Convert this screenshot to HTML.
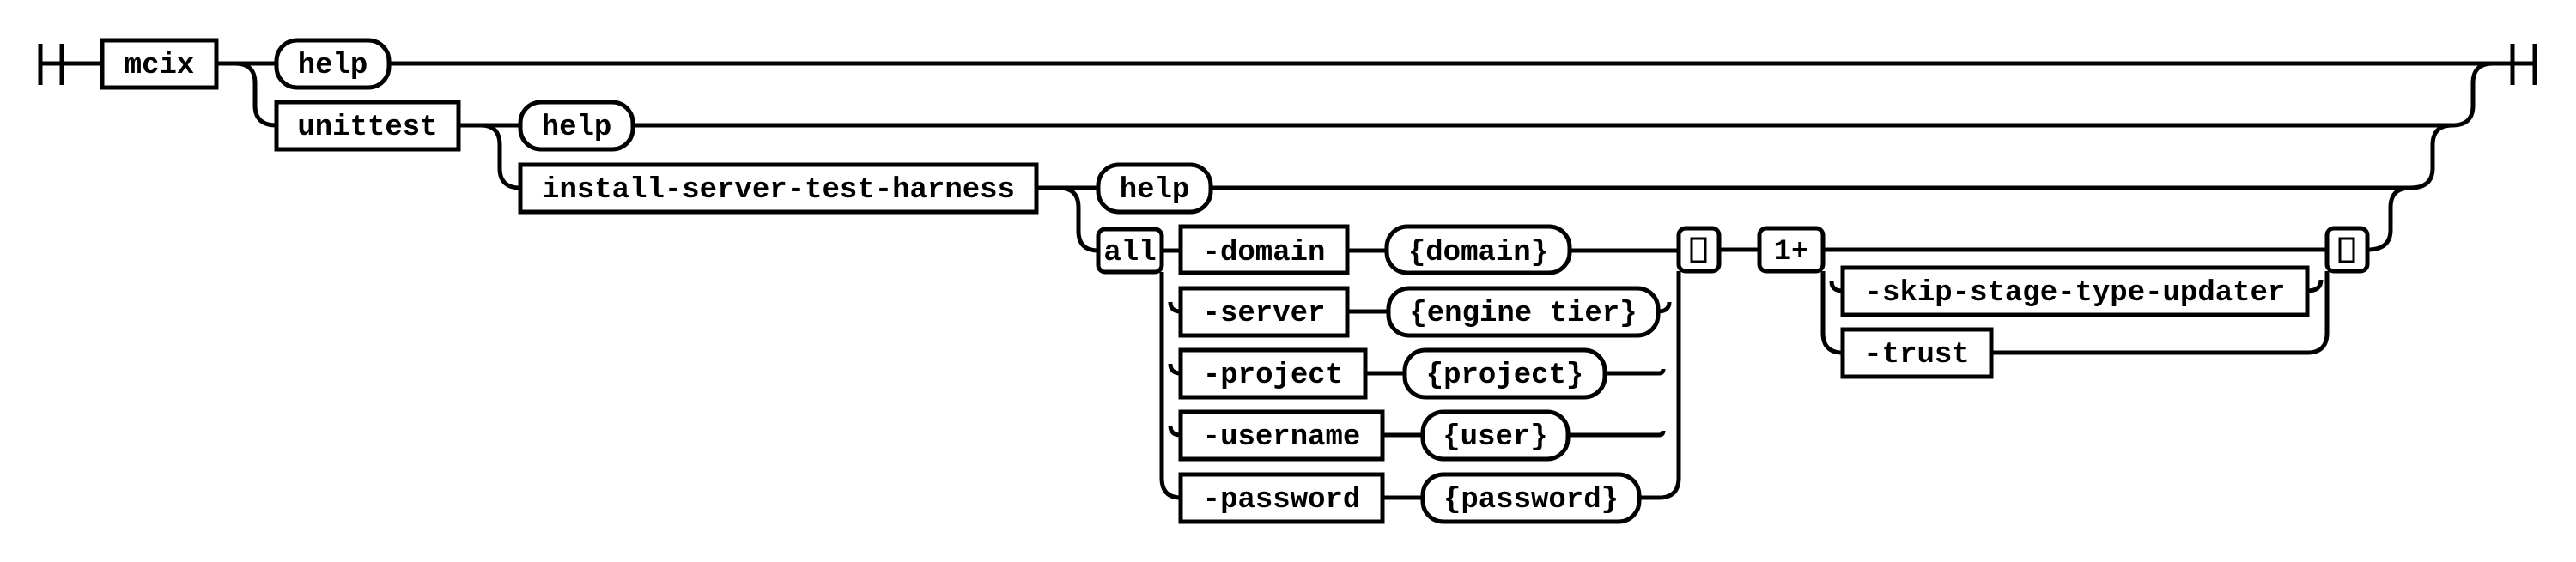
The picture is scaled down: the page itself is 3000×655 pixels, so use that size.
<!DOCTYPE html>
<html><head><meta charset="utf-8"><style>
html,body{margin:0;padding:0;background:#fff;}
svg{display:block;}
text{font-family:"Liberation Mono",monospace;font-weight:bold;font-size:34px;fill:#000;}
</style></head><body>
<svg width="3000" height="655" viewBox="0 0 3000 655" xmlns="http://www.w3.org/2000/svg">
<g fill="none" stroke="#000" stroke-width="5">
<line x1="47" y1="51" x2="47" y2="99"/><line x1="72" y1="51" x2="72" y2="99"/>
<line x1="47" y1="74" x2="119" y2="74"/>
<line x1="2926" y1="51" x2="2926" y2="99"/><line x1="2952" y1="51" x2="2952" y2="99"/>
<rect x="119" y="47" width="133" height="55"/>
<line x1="252" y1="74" x2="322" y2="74"/>
<rect x="322" y="47" width="131" height="55" rx="24"/>
<line x1="453" y1="74" x2="2952" y2="74"/>
<path d="M274,74 Q297,74 297,97 L297,123 Q297,146 322,146"/>
<rect x="322" y="119" width="212" height="55"/>
<line x1="534" y1="146" x2="606" y2="146"/>
<rect x="606" y="119" width="131" height="55" rx="24"/>
<line x1="737" y1="146" x2="2856" y2="146"/>
<path d="M2856,146 Q2880,146 2880,123 L2880,97 Q2880,74 2903,74"/>
<path d="M560,146 Q582,146 582,169 L582,196 Q582,219 606,219"/>
<rect x="606" y="192" width="601" height="55"/>
<line x1="1207" y1="219" x2="1279" y2="219"/>
<rect x="1279" y="192" width="131" height="55" rx="24"/>
<line x1="1410" y1="219" x2="2807" y2="219"/>
<path d="M2807,219 Q2833,219 2833,196 L2833,169 Q2833,146 2856,146"/>
<path d="M1233,219 Q1256,219 1256,242 L1256,269 Q1256,292 1279,292"/>
<rect x="1279" y="267" width="74" height="50" rx="8"/>
<line x1="1353" y1="292" x2="1375" y2="292"/>
<path d="M1353,317 L1353,557 Q1353,580 1375,580"/>
<rect x="1375" y="264" width="194" height="54"/>
<line x1="1569" y1="292" x2="1615" y2="292"/>
<rect x="1615" y="264" width="213" height="54" rx="24"/>
<line x1="1828" y1="292" x2="1955" y2="292"/>
<path d="M1363,352 Q1363,363 1375,363"/>
<rect x="1375" y="336" width="194" height="55"/>
<line x1="1569" y1="363" x2="1617" y2="363"/>
<rect x="1617" y="336" width="314" height="55" rx="24"/>
<path d="M1931,363 Q1944,363 1944,352"/>
<path d="M1363,424 Q1363,435 1375,435"/>
<rect x="1375" y="408" width="215" height="55"/>
<line x1="1590" y1="435" x2="1636" y2="435"/>
<rect x="1636" y="408" width="233" height="55" rx="24"/>
<path d="M1869,435 L1932,435 Q1937,435 1937,430"/>
<path d="M1363,496 Q1363,507 1375,507"/>
<rect x="1375" y="480" width="235" height="55"/>
<line x1="1610" y1="507" x2="1657" y2="507"/>
<rect x="1657" y="480" width="169" height="55" rx="24"/>
<path d="M1826,507 L1932,507 Q1937,507 1937,502"/>
<rect x="1375" y="553" width="235" height="55"/>
<line x1="1610" y1="580" x2="1657" y2="580"/>
<rect x="1657" y="553" width="252" height="55" rx="24"/>
<path d="M1909,580 L1932,580 Q1955,580 1955,557 L1955,316"/>
<rect x="1955" y="266" width="47" height="50" rx="8"/>
<rect x="1970" y="278" width="16" height="27" stroke-width="3"/>
<line x1="2002" y1="291" x2="2049" y2="291"/>
<rect x="2049" y="266" width="74" height="50" rx="8"/>
<line x1="2123" y1="291" x2="2710" y2="291"/>
<path d="M2123,316 L2123,388 Q2123,411 2146,411"/>
<path d="M2133,328 Q2133,339 2146,339"/>
<rect x="2146" y="312" width="541" height="55"/>
<path d="M2687,339 Q2703,339 2703,326"/>
<rect x="2146" y="384" width="173" height="55"/>
<path d="M2319,411 L2687,411 Q2710,411 2710,388 L2710,316"/>
<rect x="2710" y="266" width="47" height="50" rx="8"/>
<rect x="2725" y="278" width="16" height="27" stroke-width="3"/>
<path d="M2757,291 Q2784,291 2784,268 L2784,242 Q2784,219 2807,219"/>
</g>
<g text-anchor="middle">
<text x="185.5" y="85">mcix</text>
<text x="387.5" y="85">help</text>
<text x="428" y="157">unittest</text>
<text x="671.5" y="157">help</text>
<text x="906.5" y="230">install-server-test-harness</text>
<text x="1344.5" y="230">help</text>
<text x="1316" y="303">all</text>
<text x="1472" y="303">-domain</text>
<text x="1721.5" y="303">{domain}</text>
<text x="1472" y="374">-server</text>
<text x="1774" y="374">{engine tier}</text>
<text x="1482.5" y="446">-project</text>
<text x="1752.5" y="446">{project}</text>
<text x="1492.5" y="518">-username</text>
<text x="1741.5" y="518">{user}</text>
<text x="1492.5" y="591">-password</text>
<text x="1783" y="591">{password}</text>
<text x="2086" y="302">1+</text>
<text x="2416.5" y="350">-skip-stage-type-updater</text>
<text x="2232.5" y="422">-trust</text>
</g>
</svg>
</body></html>
